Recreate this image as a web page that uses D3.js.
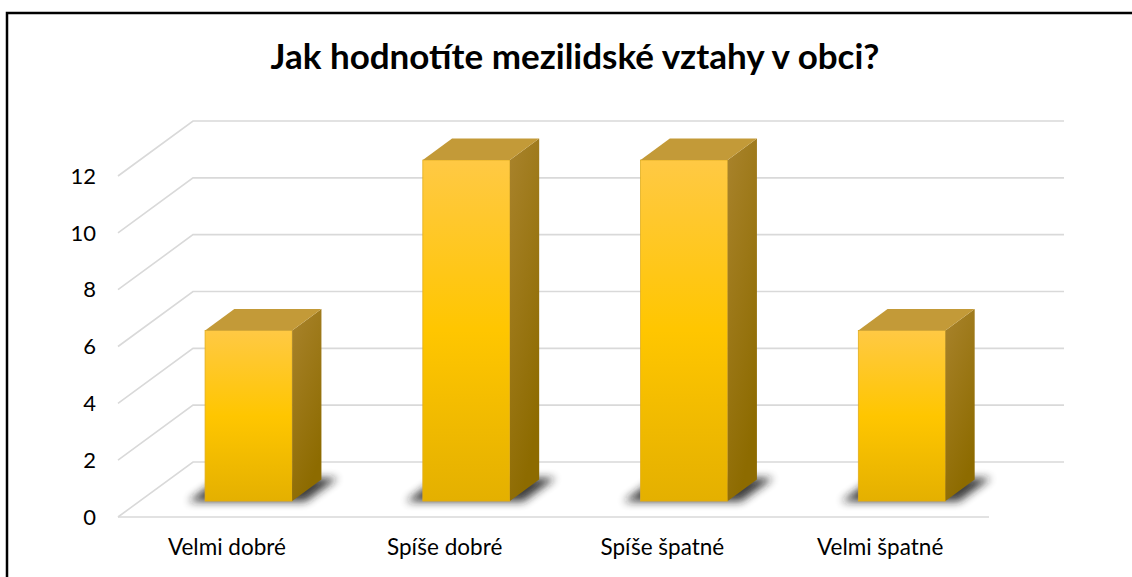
<!DOCTYPE html>
<html lang="cs">
<head>
<meta charset="UTF-8" />
<title>Jak hodnotíte mezilidské vztahy v obci?</title>
<script src="https://d3js.org/d3.v7.min.js"></script>
<style>
  body { margin: 0; background: #fff; }
  svg { display: block; font-family: Lato, "Open Sans", sans-serif; }
</style>
</head>
<body>
<svg id="chart"></svg>
<script>
  const title = "Jak hodnotíte mezilidské vztahy v obci?";
  const categories = ["Velmi dobré", "Spíše dobré", "Spíše špatné", "Velmi špatné"];
  const values = [6, 12, 12, 6];
  const yTicks = [0, 2, 4, 6, 8, 10, 12];

  const W = 1132, H = 577;
  const svg = d3.select("#chart").attr("width", W).attr("height", H);

  // floor front edge, and the depth vector of the 3D box
  const x0 = 118, y0 = 517, floorW = 871;
  const depthX = 75, depthY = -55;
  const barZ = [0.29, 0.68];

  const x = d3.scaleBand().domain(categories).range([0, floorW])
    .paddingInner(0.6).paddingOuter(0.3);
  const y = d3.scaleLinear().domain([0, 12]).range([0, 341]);

  const px = (fx, z) => x0 + fx + depthX * z;
  const py = (v, z) => y0 - y(v) + depthY * z;

  const defs = svg.append("defs");
  const front = defs.append("linearGradient").attr("id", "front")
    .attr("x1", 0).attr("y1", 0).attr("x2", 0).attr("y2", 1);
  front.append("stop").attr("offset", "0%").attr("stop-color", "#ffc944");
  front.append("stop").attr("offset", "50%").attr("stop-color", "#ffc600");
  front.append("stop").attr("offset", "100%").attr("stop-color", "#e4b000");
  const side = defs.append("linearGradient").attr("id", "side")
    .attr("x1", 0).attr("y1", 0).attr("x2", 0.4).attr("y2", 1);
  side.append("stop").attr("offset", "0%").attr("stop-color", "#a9832c");
  side.append("stop").attr("offset", "100%").attr("stop-color", "#8d6b00");
  defs.append("filter").attr("id", "blur")
    .attr("x", "-30%").attr("y", "-80%").attr("width", "160%").attr("height", "260%")
    .append("feGaussianBlur").attr("stdDeviation", 4.5);

  // chart border (runs off the right and bottom of the picture)
  svg.append("rect")
    .attr("x", 7).attr("y", 13).attr("width", W).attr("height", H)
    .attr("fill", "none").attr("stroke", "#000").attr("stroke-width", 2.5);

  svg.append("text")
    .attr("x", 575).attr("y", 69)
    .attr("text-anchor", "middle")
    .style("font-size", "35px")
    .style("font-weight", "bold")
    .text(title);

  // gridlines: left wall diagonals + back wall
  const grid = svg.append("g").attr("stroke", "#d9d9d9").attr("stroke-width", 1.6).attr("fill", "none");
  yTicks.forEach(t => {
    grid.append("path").attr("d", d3.line()([
      [px(0, 0), py(t, 0)], [px(0, 1), py(t, 1)], [px(floorW, 1), py(t, 1)]
    ]));
  });
  grid.append("line")
    .attr("x1", px(0, 0)).attr("y1", py(0, 0))
    .attr("x2", px(floorW, 0)).attr("y2", py(0, 0));

  svg.append("g").selectAll("text")
    .data(yTicks)
    .join("text")
    .attr("x", 96)
    .attr("y", d => py(d, 0))
    .attr("dy", "0.35em")
    .attr("text-anchor", "end")
    .style("font-size", "22px")
    .attr("fill", "#000")
    .text(d => d);

  const bars = svg.append("g").selectAll("g")
    .data(categories.map((c, i) => ({ c, v: values[i] })))
    .join("g");

  // soft shadow on the floor
  bars.append("path")
    .attr("filter", "url(#blur)")
    .attr("fill", "#1a1a1a")
    .attr("opacity", 0.85)
    .attr("d", d => {
      const a = x(d.c) - 16, b = x(d.c) + x.bandwidth() + 14;
      const za = barZ[0] - 0.01, zb = barZ[1] + 0.03;
      return d3.line()([
        [px(a, za), py(0, za)], [px(b, za), py(0, za)],
        [px(b, zb), py(0, zb)], [px(a, zb), py(0, zb)]
      ]) + "Z";
    });

  bars.append("rect")
    .attr("x", d => px(x(d.c), barZ[0]))
    .attr("y", d => py(d.v, barZ[0]))
    .attr("width", x.bandwidth())
    .attr("height", d => y(d.v))
    .attr("fill", "url(#front)")
    .attr("stroke", "#e2ad1c").attr("stroke-width", 0.8);

  bars.append("path")
    .attr("fill", "url(#side)")
    .attr("d", d => {
      const r = x(d.c) + x.bandwidth();
      return d3.line()([
        [px(r, barZ[0]), py(d.v, barZ[0])], [px(r, barZ[1]), py(d.v, barZ[1])],
        [px(r, barZ[1]), py(0, barZ[1])], [px(r, barZ[0]), py(0, barZ[0])]
      ]) + "Z";
    });

  bars.append("path")
    .attr("fill", "#c39a38")
    .attr("d", d => {
      const l = x(d.c), r = l + x.bandwidth();
      return d3.line()([
        [px(l, barZ[0]), py(d.v, barZ[0])], [px(r, barZ[0]), py(d.v, barZ[0])],
        [px(r, barZ[1]), py(d.v, barZ[1])], [px(l, barZ[1]), py(d.v, barZ[1])]
      ]) + "Z";
    });

  svg.append("g").selectAll("text")
    .data(categories)
    .join("text")
    .attr("x", d => px(x(d) + x.bandwidth() / 2, 0))
    .attr("y", 555)
    .attr("text-anchor", "middle")
    .style("font-size", "22.5px")
    .attr("fill", "#000")
    .text(d => d);
</script>
</body>
</html>
